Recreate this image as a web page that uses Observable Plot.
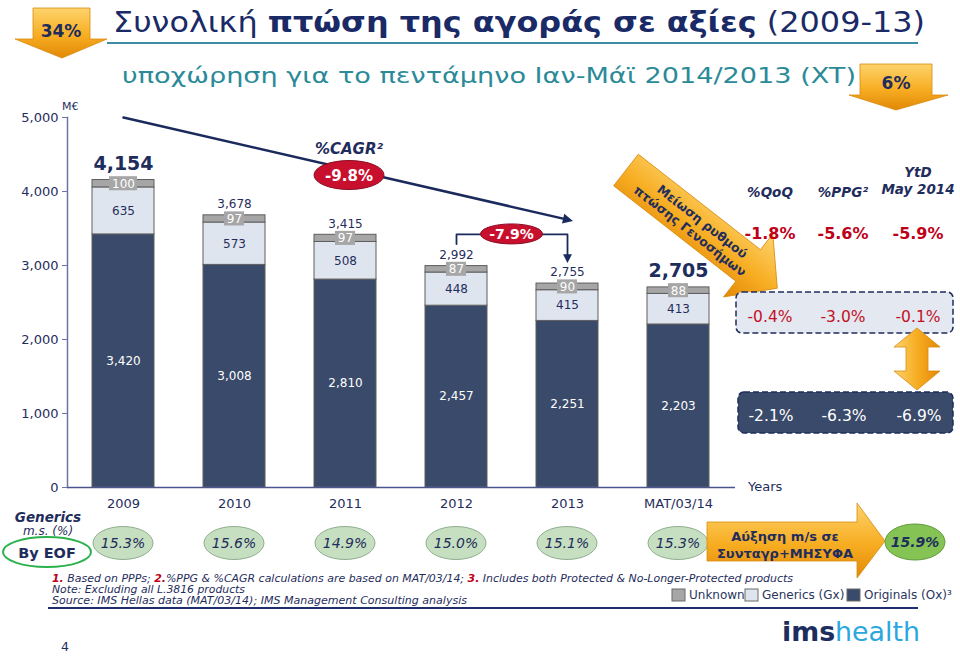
<!DOCTYPE html>
<html><head><meta charset="utf-8">
<script src="https://cdn.jsdelivr.net/npm/d3@7"></script>
<script src="https://cdn.jsdelivr.net/npm/@observablehq/plot@0.6"></script>
<style>
body{margin:0;background:#fff;font-family:"DejaVu Sans",Verdana,sans-serif;}
#page{position:relative;width:960px;height:656px;overflow:hidden;background:#fff;}
#page > svg{position:absolute;left:0;top:0;}
#overlay{pointer-events:none;}
</style></head>
<body><div id="page"></div>
<script>
// ---------------- data ----------------
const years = ["2009","2010","2011","2012","2013","MAT/03/14"];
const originals = [3420, 3008, 2810, 2457, 2251, 2203];
const generics = [635, 573, 508, 448, 415, 413];
const unknown = [100, 97, 97, 87, 90, 88];
const totals = [4154, 3678, 3415, 2992, 2755, 2705];
const genericsShare = ["15.3%","15.6%","14.9%","15.0%","15.1%","15.3%"];
const yTicks = [0, 1000, 2000, 3000, 4000, 5000];
const segments = ["Originals", "Generics", "Unknown"];
const segmentColors = ["#3a4a6a", "#dfe5ef", "#a6a6a6"];
const legendLabels = ["Unknown", "Generics (Gx)", "Originals (Ox)³"];
const tableHeaders = ["%QoQ", "%PPG²", "YtD|May 2014"];
const totalRow = ["-1.8%", "-5.6%", "-5.9%"];
const genericsRow = ["-0.4%", "-3.0%", "-0.1%"];
const originalsRow = ["-2.1%", "-6.3%", "-6.9%"];
const cagrText = "-9.8%";
const recentText = "-7.9%";
const targetShare = "15.9%";
// annotation anchors (data units)
const cagrPath = [{year:"2009", v:5000}, {year:"2013", v:3620}];
const bracketPath = [{year:"2012", v:3290}, {year:"2012", v:3420}, {year:"2013", v:3420}, {year:"2013", v:3100}];
const cagrBadge = {year:"2011", v:4216};

// ---------------- tables ----------------
const fmt = d3.format(",");
const NAVY = "#1f2d5c";
const long = years.flatMap((yr, i) => [
  {year: yr, series: "Originals", value: originals[i]},
  {year: yr, series: "Generics", value: generics[i]},
  {year: yr, series: "Unknown", value: unknown[i]}
]);
const rows = years.map((yr, i) => ({
  year: yr, o: originals[i], g: generics[i], u: unknown[i], total: totals[i],
  oMid: originals[i] / 2,
  gMid: originals[i] + generics[i] / 2,
  uMid: originals[i] + generics[i] + unknown[i] / 2,
  big: i === 0 || i === years.length - 1
}));

function filledArrow(size) {
  return (color) => {
    const m = d3.create("svg:marker")
      .attr("viewBox", "-5 -5 10 10")
      .attr("markerWidth", size).attr("markerHeight", size)
      .attr("orient", "auto")
      .attr("fill", color).attr("stroke", "none");
    m.append("path").attr("d", "M-4,-4.5L5,0L-4,4.5Z");
    return m.node();
  };
}

const plot = Plot.plot({
  width: 960, height: 656,
  marginLeft: 67, marginRight: 225, marginTop: 117, marginBottom: 169,
  style: {fontFamily: "DejaVu Sans, Verdana, sans-serif", fontSize: "13px", color: NAVY, background: "transparent"},
  x: {domain: years, paddingInner: 0.44, paddingOuter: 0.22, label: null},
  y: {domain: [0, 5000], label: null},
  color: {domain: segments, range: segmentColors},
  marks: [
    Plot.axisY({ticks: yTicks, tickFormat: fmt, tickSize: 5, tickPadding: 4, stroke: "#6c73a8", fill: NAVY, fontSize: 13, label: null}),
    Plot.axisX({tickSize: 0, tickPadding: 11, fill: NAVY, fontSize: 13, label: null}),
    Plot.frame({anchor: "left", stroke: "#6c73a8", strokeWidth: 1.5}),
    Plot.barY(long, {x: "year", y: "value", fill: "series", order: segments, stroke: "#5e5e5e", strokeWidth: 1}),
    Plot.ruleY([0], {stroke: "#4b5590", strokeWidth: 1.5}),
    // labels
    Plot.text(rows, {x: "year", y: "oMid", text: d => fmt(d.o), fill: "white", fontSize: 12}),
    Plot.text(rows, {x: "year", y: "gMid", text: d => fmt(d.g), fill: NAVY, fontSize: 12}),
    Plot.barY(rows.filter(d => String(d.u).length > 2), {x: "year", y1: d => d.uMid - 95, y2: d => d.uMid + 95, fill: "#a6a6a6", insetLeft: 17, insetRight: 17}),
    Plot.barY(rows.filter(d => String(d.u).length <= 2), {x: "year", y1: d => d.uMid - 95, y2: d => d.uMid + 95, fill: "#a6a6a6", insetLeft: 21, insetRight: 21}),
    Plot.text(rows, {x: "year", y: "uMid", text: d => fmt(d.u), fill: "white", fontSize: 12}),
    Plot.text(rows.filter(d => !d.big), {x: "year", y: "total", text: d => fmt(d.total), dy: -11, fill: NAVY, fontSize: 12}),
    Plot.text(rows.filter(d => d.big), {x: "year", y: "total", text: d => fmt(d.total), dy: -16, fill: NAVY, fontSize: 19, fontWeight: "bold"}),
    // annotations
    Plot.line(cagrPath, {x: "year", y: "v", stroke: "#1b2a5c", strokeWidth: 2.5, markerEnd: filledArrow(4.5)}),
    Plot.line(bracketPath, {x: "year", y: "v", stroke: "#1b2a5c", strokeWidth: 1.8, markerEnd: filledArrow(5.5)})
  ]
});
const page = document.getElementById("page");
page.appendChild(plot);

const xs = plot.scale("x"), ys = plot.scale("y");
const cx = yr => xs.apply(yr) + xs.bandwidth / 2;
const py = v => ys.apply(v);

// ---------------- overlay ----------------
let s = `<svg id="overlay" width="960" height="656" xmlns="http://www.w3.org/2000/svg" font-family="DejaVu Sans, Verdana, sans-serif">
<defs>
 <linearGradient id="og" x1="0" y1="0" x2="0" y2="1">
  <stop offset="0" stop-color="#fdd36c"/><stop offset="0.55" stop-color="#f7ad22"/><stop offset="1" stop-color="#e28806"/>
 </linearGradient>
 <linearGradient id="ogh" x1="0" y1="0" x2="1" y2="0">
  <stop offset="0" stop-color="#fdd36c"/><stop offset="0.5" stop-color="#f7ad22"/><stop offset="1" stop-color="#e28806"/>
 </linearGradient>
</defs>`;

// title block
s += `<polygon points="33,8 90,8 90,39 107,39 62,58 15,39 33,39" fill="url(#og)" stroke="#d88a10" stroke-width="0.8"/>
<text x="61" y="37" text-anchor="middle" font-size="17" font-weight="bold" fill="${NAVY}">34%</text>
<text x="113" y="32" font-size="29" fill="#1a2a66" textLength="812" lengthAdjust="spacingAndGlyphs">Συνολική <tspan font-weight="bold">πτώση της αγοράς σε αξίες</tspan> (2009-13)</text>
<line x1="107" y1="43" x2="918" y2="43" stroke="#3b8ea5" stroke-width="2"/>
<text x="122" y="83" font-size="22" fill="#2b8a98" textLength="734" lengthAdjust="spacingAndGlyphs">υποχώρηση για το πεντάμηνο Ιαν-Μάϊ 2014/2013 (XT)</text>
<polygon points="860,64 932,64 932,95 948,95 896,110 849,95 860,95" fill="url(#og)" stroke="#d88a10" stroke-width="0.8"/>
<text x="896" y="89" text-anchor="middle" font-size="17" font-weight="bold" fill="${NAVY}">6%</text>
<text x="62" y="110" font-size="11" fill="${NAVY}">M€</text>
<text x="748" y="491" font-size="13" fill="${NAVY}">Years</text>`;

// CAGR badge
const bx = cx(cagrBadge.year) + 4, by = py(cagrBadge.v);
s += `<text x="${bx}" y="${by - 21}" text-anchor="middle" font-size="15" font-weight="bold" font-style="italic" fill="${NAVY}">%CAGR²</text>
<ellipse cx="${bx}" cy="${by}" rx="35" ry="14.5" fill="#c8102e" stroke="#8a0c22" stroke-width="1"/>
<text x="${bx}" y="${by + 5.5}" text-anchor="middle" font-size="15" font-weight="bold" fill="white">${cagrText}</text>`;
// recent badge
const rx = (cx(bracketPath[1].year) + cx(bracketPath[2].year)) / 2, ry = py(bracketPath[1].v);
s += `<ellipse cx="${rx}" cy="${ry}" rx="31" ry="10" fill="#c8102e" stroke="#8a0c22" stroke-width="1"/>
<text x="${rx}" y="${ry + 5}" text-anchor="middle" font-size="14" font-weight="bold" fill="white">${recentText}</text>`;

// rotated orange arrow
s += `<g transform="translate(626,170) rotate(38)">
 <polygon points="0,-20 155,-20 155,-40 192,0 155,40 155,20 0,20" fill="url(#og)" stroke="#d88a10" stroke-width="0.8"/>
 <text x="92" y="-2" text-anchor="middle" font-size="12.5" font-weight="bold" fill="${NAVY}">Μείωση ρυθμού</text>
 <text x="88" y="13" text-anchor="middle" font-size="12.5" font-weight="bold" fill="${NAVY}">πτώσης Γενοσήμων</text>
</g>`;

// right table
const colX = [770, 843, 918];
tableHeaders.forEach((h, i) => {
  const parts = h.split("|");
  if (parts.length === 1) {
    s += `<text x="${colX[i]}" y="197" text-anchor="middle" font-size="13.5" font-weight="bold" font-style="italic" fill="${NAVY}">${parts[0]}</text>`;
  } else {
    s += `<text x="${colX[i]}" y="177" text-anchor="middle" font-size="13.5" font-weight="bold" font-style="italic" fill="${NAVY}">${parts[0]}</text>`;
    s += `<text x="${colX[i]}" y="194" text-anchor="middle" font-size="13.5" font-weight="bold" font-style="italic" fill="${NAVY}">${parts[1]}</text>`;
  }
});
totalRow.forEach((t, i) => {
  s += `<text x="${colX[i]}" y="239" text-anchor="middle" font-size="16" font-weight="bold" fill="#c00018">${t}</text>`;
});
s += `<rect x="736" y="292" width="217" height="41" rx="6" fill="#e3e8f1" stroke="#1f2d5c" stroke-width="1.5" stroke-dasharray="6,3"/>`;
genericsRow.forEach((t, i) => {
  s += `<text x="${colX[i]}" y="322" text-anchor="middle" font-size="15.5" fill="#c4101f">${t}</text>`;
});
s += `<rect x="738" y="392" width="215" height="41" rx="6" fill="#3a4a6a" stroke="#1f2d5c" stroke-width="1.5" stroke-dasharray="6,3"/>`;
originalsRow.forEach((t, i) => {
  s += `<text x="${colX[i] + 1}" y="421" text-anchor="middle" font-size="15.5" fill="white">${t}</text>`;
});
// double arrow
s += `<polygon points="917,328 940,347 928,347 928,371 940,371 917,390 894,371 906,371 906,347 894,347" fill="url(#ogh)" stroke="#d88a10" stroke-width="0.8"/>`;

// generics share row
s += `<text x="48" y="522" text-anchor="middle" font-size="13.5" font-weight="bold" font-style="italic" fill="${NAVY}">Generics</text>
<text x="48" y="535" text-anchor="middle" font-size="12" font-style="italic" fill="${NAVY}">m.s. (%)</text>
<text x="47" y="558" text-anchor="middle" font-size="14.5" font-weight="bold" fill="${NAVY}">By EOF</text>
<ellipse cx="47" cy="552" rx="44" ry="15" fill="none" stroke="#2bb24c" stroke-width="2"/>`;
years.forEach((yr, i) => {
  const x = cx(yr);
  s += `<ellipse cx="${x}" cy="543" rx="30" ry="16.5" fill="#c7dfc1" stroke="#8fae8f" stroke-width="1"/>
  <text x="${x}" y="548" text-anchor="middle" font-size="14" font-style="italic" fill="${NAVY}">${genericsShare[i]}</text>`;
});
// growth arrow
s += `<polygon points="707,522 857,522 857,503 885,541 857,578 857,561 707,561" fill="url(#og)" stroke="#d88a10" stroke-width="0.8"/>
<text x="785" y="541" text-anchor="middle" font-size="13" font-weight="bold" fill="${NAVY}">Αύξηση m/s σε</text>
<text x="785" y="558" text-anchor="middle" font-size="13" font-weight="bold" fill="${NAVY}">Συνταγρ+ΜΗΣΥΦΑ</text>
<ellipse cx="915" cy="542" rx="30" ry="18" fill="#85c454" stroke="#5f9a3c" stroke-width="1"/>
<text x="915" y="547" text-anchor="middle" font-size="14" font-weight="bold" font-style="italic" fill="${NAVY}">${targetShare}</text>`;

// footnotes
s += `<text x="52" y="582" font-size="10.5" font-style="italic" fill="${NAVY}" textLength="741" lengthAdjust="spacingAndGlyphs"><tspan fill="#c00018" font-weight="bold">1.</tspan> Based on PPPs; <tspan fill="#c00018" font-weight="bold">2.</tspan>%PPG &amp; %CAGR calculations are based on MAT/03/14; <tspan fill="#c00018" font-weight="bold">3.</tspan> Includes both Protected &amp; No-Longer-Protected products</text>
<text x="52" y="593" font-size="10.5" font-style="italic" fill="${NAVY}" textLength="193" lengthAdjust="spacingAndGlyphs">Note: Excluding all L.3816 products</text>
<text x="52" y="604" font-size="10.5" font-style="italic" fill="${NAVY}" textLength="415" lengthAdjust="spacingAndGlyphs">Source: IMS Hellas data (MAT/03/14); IMS Management Consulting analysis</text>
<line x1="48" y1="608" x2="918" y2="608" stroke="#1f2d6c" stroke-width="2"/>`;

// legend
const legX = [672, 745, 847];
const legColors = [segmentColors[2], segmentColors[1], segmentColors[0]];
legendLabels.forEach((l, i) => {
  s += `<rect x="${legX[i]}" y="589" width="13" height="12" fill="${legColors[i]}" stroke="#6a6a6a" stroke-width="1"/>
  <text x="${legX[i] + 17}" y="599" font-size="12" fill="#2a3560">${l}</text>`;
});

// page number + logo
s += `<text x="65" y="651" text-anchor="middle" font-size="12.5" fill="${NAVY}">4</text>
<text x="782" y="641" font-size="27" textLength="138" lengthAdjust="spacingAndGlyphs"><tspan font-weight="bold" fill="#1c2e5f">ims</tspan><tspan fill="#2aa7df">health</tspan></text>`;
s += `</svg>`;
page.insertAdjacentHTML("beforeend", s);
</script>
</body></html>
